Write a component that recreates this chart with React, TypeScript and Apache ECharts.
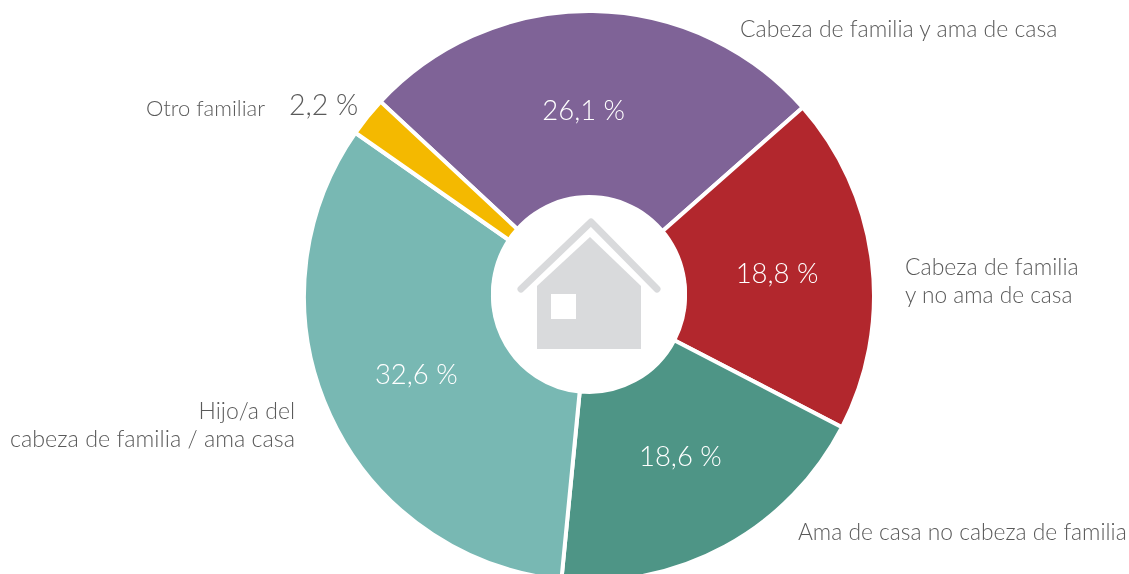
import React, { useEffect, useRef } from "react";
import * as echarts from "echarts";

const categories = [
  "Cabeza de familia y ama de casa",
  "Cabeza de familia y no ama de casa",
  "Ama de casa no cabeza de familia",
  "Hijo/a del cabeza de familia / ama casa",
  "Otro familiar",
];
const values = [26.1, 18.8, 18.6, 32.6, 2.2];
const colors = ["#7F6397", "#B2272D", "#4E9586", "#78B8B3", "#F4B900"];
const labelOffsets = [[-8, 7], [-4, 0], [-1, -11], [3, -4], [-115, -70]];

const FONT = "Lato";
const GRAY = "#5A5A5A";
const fmt = (v: number) => v.toFixed(1).replace(".", ",") + " %";

export default function App() {
  const ref = useRef<HTMLDivElement>(null);
  useEffect(() => {
    const chart = echarts.init(ref.current!, undefined, { renderer: "svg" });
    const name = (text: string, x: number, y: number, align = "left", size = 23) => ({
      type: "text",
      x,
      y,
      z: 10,
      style: { text, fill: GRAY, font: `300 ${size}px ${FONT}`, textAlign: align, textVerticalAlign: "middle" },
    });
    chart.setOption({
      animation: false,
      series: [
        {
          type: "pie",
          center: [589, 296],
          radius: [96, 285],
          startAngle: 137,
          clockwise: true,
          silent: true,
          data: values.map((v, i) => ({
            name: categories[i],
            value: v,
            itemStyle: { color: colors[i] },
            label: {
              show: true,
              position: "inside",
              formatter: () => fmt(v),
              color: i === 4 ? GRAY : "#FFFFFF",
              fontFamily: FONT,
              fontWeight: 300,
              fontSize: i === 4 ? 28.5 : 27.5,
              offset: labelOffsets[i],
            },
          })),
          itemStyle: { borderColor: "#FFFFFF", borderWidth: 4 },
          labelLine: { show: false },
        },
      ],
      graphic: [
        { type: "circle", z: 5, shape: { cx: 589, cy: 293, r: 98 }, style: { fill: "#FFFFFF" } },
        {
          type: "polyline",
          z: 6,
          shape: { points: [[521, 289], [591, 222], [657, 289]] },
          style: { stroke: "#D9DADC", lineWidth: 7, fill: "none", lineCap: "round", lineJoin: "round" },
        },
        {
          type: "polygon",
          z: 6,
          shape: { points: [[537, 286], [590, 237], [641, 286], [641, 349], [537, 349]] },
          style: { fill: "#D9DADC" },
        },
        { type: "rect", z: 7, shape: { x: 551, y: 294, width: 25, height: 25 }, style: { fill: "#FFFFFF" } },
        name("Cabeza de familia y ama de casa", 740, 28),
        name("Cabeza de familia", 905, 266),
        name("y no ama de casa", 905, 294, "left", 22.7),
        name("Ama de casa no cabeza de familia", 798, 531, "left", 22.8),
        name("Hijo/a del", 295, 410, "right"),
        name("cabeza de familia / ama casa", 295, 438, "right", 23.3),
        name("Otro familiar", 265, 107, "right", 22),
      ],
    });
    return () => chart.dispose();
  }, []);
  return <div ref={ref} style={{ position: "fixed", left: 0, top: 0, width: 1129, height: 574 }} />;
}
